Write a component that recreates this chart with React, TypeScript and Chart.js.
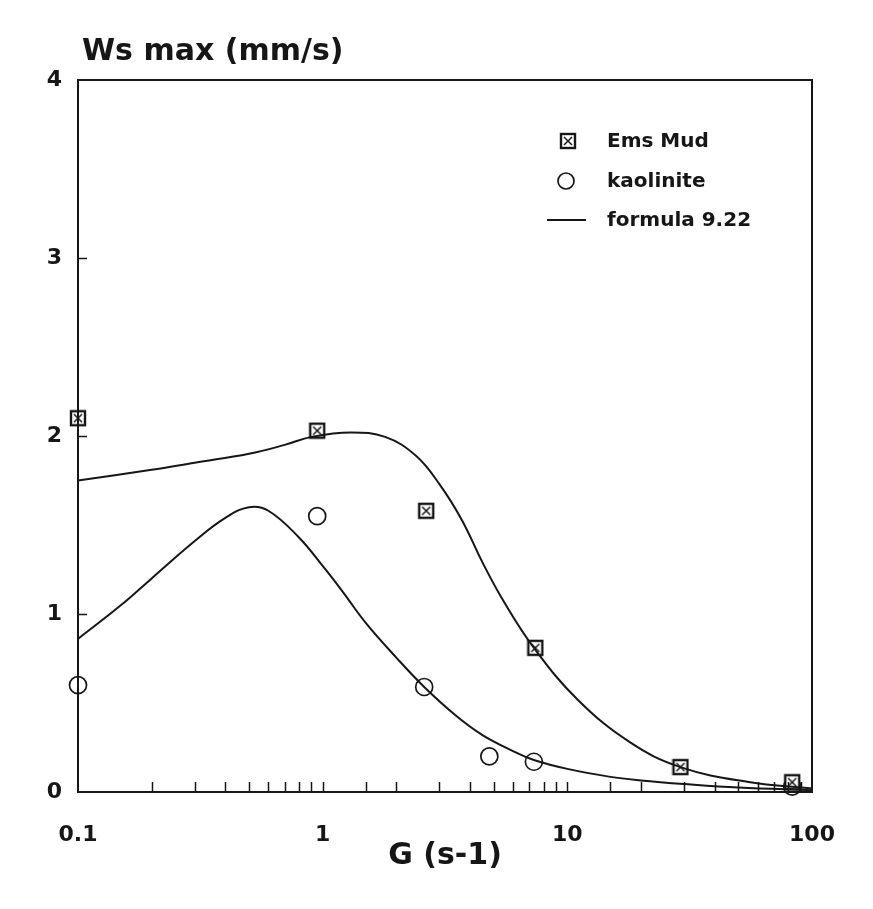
import React, { useEffect, useRef } from "react";
import { Chart, registerables } from "chart.js";

Chart.register(...registerables);

// ---- data ----
const emsG = [0.1, 0.95, 2.65, 7.4, 29, 83];
const emsWs = [2.1, 2.03, 1.58, 0.81, 0.14, 0.055];
const kaoG = [0.1, 0.95, 2.6, 4.8, 7.3, 83];
const kaoWs = [0.6, 1.55, 0.59, 0.2, 0.17, 0.03];
const fitEmsG = [0.1, 0.2, 0.3, 0.5, 0.7, 0.9, 1.3, 1.8, 2.4, 3, 3.7, 4.5, 5.5, 7.3, 11, 18, 29, 55, 100];
const fitEmsWs = [1.75, 1.81, 1.85, 1.9, 1.95, 1.995, 2.02, 1.995, 1.89, 1.73, 1.53, 1.29, 1.07, 0.81, 0.52, 0.28, 0.14, 0.056, 0.02];
const fitKaoG = [0.1, 0.15, 0.2, 0.3, 0.4, 0.5, 0.6, 0.8, 1, 1.2, 1.5, 2, 2.6, 3.5, 4.5, 6, 7.3, 10, 15, 20, 30, 50, 100];
const fitKaoWs = [0.86, 1.05, 1.2, 1.41, 1.54, 1.6, 1.58, 1.43, 1.27, 1.13, 0.95, 0.755, 0.59, 0.43, 0.32, 0.23, 0.18, 0.13, 0.085, 0.065, 0.045, 0.025, 0.01];
const xTickLabels = ["0.1", "1", "10", "100"];
const yTickLabels = ["0", "1", "2", "3", "4"];
const legendLabels = ["Ems Mud", "kaolinite", "formula 9.22"];
const yTitle = "Ws max (mm/s)";
const xTitle = "G (s-1)";

const ink = "#161616";
const FONT = '"DejaVu Sans", "Liberation Sans", sans-serif';

function makeCrossSquare(size: number) {
  const c = document.createElement("canvas");
  c.width = size;
  c.height = size;
  const g = c.getContext("2d")!;
  g.fillStyle = "#fff";
  g.fillRect(1, 1, size - 2, size - 2);
  g.strokeStyle = ink;
  g.lineWidth = 2.4;
  g.strokeRect(2, 2, size - 4, size - 4);
  g.lineWidth = 1.5;
  g.beginPath();
  g.moveTo(5, 5);
  g.lineTo(size - 5, size - 5);
  g.moveTo(size - 5, 5);
  g.lineTo(5, size - 5);
  g.stroke();
  return c;
}

const pts = (xs: number[], ys: number[]) => xs.map((x, i) => ({ x, y: ys[i] }));

export default function App() {
  const ref = useRef<HTMLCanvasElement | null>(null);

  useEffect(() => {
    const canvas = ref.current;
    if (!canvas) return;
    const crossSq = makeCrossSquare(18);

    const paper = {
      id: "paper",
      beforeDraw(chart: any) {
        const { ctx, width, height } = chart;
        ctx.save();
        ctx.fillStyle = "#fff";
        ctx.fillRect(0, 0, width, height);
        ctx.restore();
      },
      afterDraw(chart: any) {
        const { ctx, chartArea: a } = chart;
        const x = chart.scales.x;
        const y = chart.scales.y;
        ctx.save();
        ctx.strokeStyle = ink;
        ctx.lineWidth = 2;
        ctx.strokeRect(a.left, a.top, a.right - a.left, a.bottom - a.top);
        ctx.lineWidth = 1.5;
        ctx.beginPath();
        x.ticks.forEach((t: any) => {
          if (t.value <= x.min * 1.0001 || t.value >= x.max * 0.9999) return;
          const px = Math.round(x.getPixelForValue(t.value)) + 0.5;
          ctx.moveTo(px, a.bottom);
          ctx.lineTo(px, a.bottom - 10);
        });
        y.ticks.forEach((t: any) => {
          if (t.value <= y.min || t.value >= y.max) return;
          const py = Math.round(y.getPixelForValue(t.value)) + 0.5;
          ctx.moveTo(a.left, py);
          ctx.lineTo(a.left + 9, py);
        });
        ctx.stroke();

        // axis titles
        ctx.fillStyle = ink;
        ctx.font = `bold 30px ${FONT}`;
        ctx.textBaseline = "middle";
        ctx.textAlign = "left";
        ctx.fillText(yTitle, 82, 52);
        ctx.textAlign = "center";
        ctx.fillText(xTitle, (a.left + a.right) / 2, 856);

        // legend
        const mx = 568;
        const tx = 607;
        const rows = [141, 181, 220];
        ctx.font = `bold 20px ${FONT}`;
        ctx.textAlign = "left";
        ctx.drawImage(crossSq, mx - 9, rows[0] - 9);
        ctx.fillText(legendLabels[0], tx, rows[0] + 1);
        ctx.lineWidth = 1.7;
        ctx.beginPath();
        ctx.arc(mx - 2, rows[1], 8, 0, Math.PI * 2);
        ctx.stroke();
        ctx.fillText(legendLabels[1], tx, rows[1] + 1);
        ctx.lineWidth = 2;
        ctx.beginPath();
        ctx.moveTo(547, rows[2]);
        ctx.lineTo(586, rows[2]);
        ctx.stroke();
        ctx.fillText(legendLabels[2], tx, rows[2] + 1);
        ctx.restore();
      },
    };

    const lineDs = (data: any[]) =>
      ({
        label: legendLabels[2],
        data,
        showLine: true,
        borderColor: ink,
        borderWidth: 2,
        pointRadius: 0,
        tension: 0.4,
        clip: false,
      } as any);

    const chart = new Chart(canvas, {
      type: "scatter",
      data: {
        datasets: [
          lineDs(pts(fitEmsG, fitEmsWs)),
          lineDs(pts(fitKaoG, fitKaoWs)),
          {
            label: legendLabels[0],
            data: pts(emsG, emsWs),
            pointStyle: crossSq,
            pointRadius: 9,
            clip: false,
          } as any,
          {
            label: legendLabels[1],
            data: pts(kaoG, kaoWs),
            pointStyle: "circle",
            pointRadius: 8.5,
            borderColor: ink,
            borderWidth: 1.7,
            backgroundColor: "rgba(0,0,0,0)",
            clip: false,
          } as any,
        ],
      },
      options: {
        responsive: false,
        animation: false,
        layout: { padding: { left: 0, right: 61, top: 80, bottom: 0 } },
        plugins: { legend: { display: false }, tooltip: { enabled: false }, title: { display: false } },
        scales: {
          x: {
            type: "logarithmic",
            min: 0.1,
            max: 100,
            grid: { display: false },
            border: { display: false },
            ticks: {
              autoSkip: false,
              maxRotation: 0,
              padding: 22,
              color: ink,
              font: { family: FONT, size: 22, weight: "bold" },
              callback: (v: any) => {
                const l = Math.log10(Number(v));
                if (Math.abs(l - Math.round(l)) < 1e-6) return xTickLabels[Math.round(l) + 1] ?? "";
                return "";
              },
            },
            afterFit: (s: any) => {
              s.height = 117;
            },
          },
          y: {
            min: 0,
            max: 4,
            grid: { display: false },
            border: { display: false },
            ticks: {
              stepSize: 1,
              padding: 8,
              color: ink,
              font: { family: FONT, size: 22, weight: "bold" },
              callback: (v: any) => yTickLabels[Math.round(Number(v))] ?? "",
            },
            afterFit: (s: any) => {
              s.width = 78;
            },
          },
        },
      },
      plugins: [paper],
    });
    return () => chart.destroy();
  }, []);

  return (
    <div style={{ position: "fixed", left: 0, top: 0, width: 873, height: 909, background: "#fff" }}>
      <canvas ref={ref} width={873} height={909} style={{ display: "block" }} />
    </div>
  );
}
